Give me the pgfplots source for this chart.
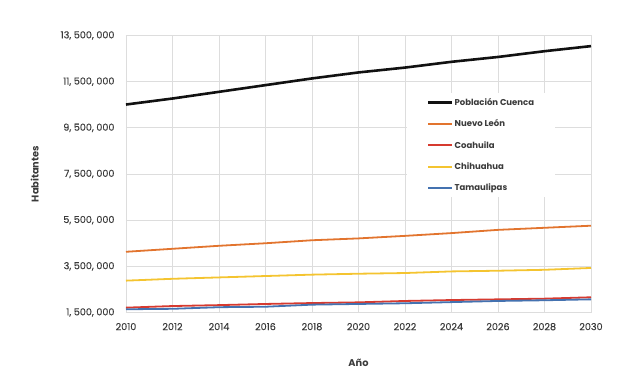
\documentclass[border=0pt]{standalone}
\usepackage{pgfplots}
\pgfplotsset{compat=1.18}
\usepackage{fontspec}
\setmainfont{Poppins}
\newfontfamily\tickfont{Poppins}[FakeBold=0.25]
\definecolor{txt}{HTML}{3A3A3A}
\definecolor{gridc}{HTML}{DDDDDD}
\definecolor{cblack}{HTML}{111111}
\definecolor{corange}{HTML}{E2742E}
\definecolor{cred}{HTML}{D63A2F}
\definecolor{cyellow}{HTML}{F4C430}
\definecolor{cblue}{HTML}{4472B0}
\begin{document}
\begin{tikzpicture}
\useasboundingbox (-126pt,-76.5pt) rectangle (498pt,312.5pt);
\begin{axis}[
  at={(0pt,0pt)}, anchor=south west,
  scale only axis, width=465pt, height=277pt,
  xmin=2010, xmax=2030, ymin=1.5, ymax=13.5,
  xtick={2010,2012,...,2030},
  xticklabels={2010,2012,2014,2016,2018,2020,2022,2024,2026,2028,2030},
  ytick={1.5,3.5,5.5,7.5,9.5,11.5,13.5},
  yticklabels={{1, 500, 000},{3, 500, 000},{5, 500, 000},{7, 500, 000},{9, 500, 000},{11, 500, 000},{13, 500, 000}},
  grid=major, major grid style={gridc, line width=0.8pt},
  axis line style={gridc, line width=0.8pt},
  major tick length=0pt,
  tick label style={font=\tickfont\fontsize{9.6}{11}\selectfont, text=txt},
  yticklabel style={xshift=-8pt},
  xticklabel style={yshift=-7pt},
  xlabel={\bfseries Año}, ylabel={\bfseries Habitantes},
  label style={font=\fontsize{9.8}{11}\selectfont, text=txt},
  xlabel style={at={(axis description cs:0.5,-0.182)}, anchor=center},
  ylabel style={at={(axis description cs:-0.196,0.5)}, anchor=center, rotate=0},
  legend style={at={(axis description cs:0.604,0.793)}, anchor=north west,
    fill=white, draw=none, inner xsep=20pt, inner ysep=4pt,
    row sep=11pt, font=\fontsize{8.5}{10}\selectfont\bfseries, text=txt,
    nodes={inner sep=1pt}},
  legend cell align=left,
  legend image code/.code={\draw[#1] (0pt,0pt) -- (24pt,0pt);},
]
\addplot[cblack, line width=2.6pt] coordinates {(2010,10.51) (2012,10.77) (2014,11.06) (2016,11.35) (2018,11.64) (2020,11.90) (2022,12.11) (2024,12.36) (2026,12.57) (2028,12.82) (2030,13.04)};
\addlegendentry{Población Cuenca}
\addplot[corange, line width=1.8pt] coordinates {(2010,4.13) (2012,4.26) (2014,4.39) (2016,4.50) (2018,4.63) (2020,4.71) (2022,4.82) (2024,4.94) (2026,5.08) (2028,5.17) (2030,5.26)};
\addlegendentry{Nuevo León}
\addplot[cred, line width=1.8pt] coordinates {(2010,1.71) (2012,1.78) (2014,1.82) (2016,1.87) (2018,1.91) (2020,1.94) (2022,2.00) (2024,2.04) (2026,2.07) (2028,2.10) (2030,2.16)};
\addlegendentry{Coahuila}
\addplot[cyellow, line width=1.8pt] coordinates {(2010,2.88) (2012,2.96) (2014,3.02) (2016,3.08) (2018,3.14) (2020,3.18) (2022,3.21) (2024,3.28) (2026,3.31) (2028,3.35) (2030,3.43)};
\addlegendentry{Chihuahua}
\addplot[cblue, line width=1.8pt] coordinates {(2010,1.64) (2012,1.66) (2014,1.73) (2016,1.75) (2018,1.84) (2020,1.87) (2022,1.90) (2024,1.95) (2026,2.00) (2028,2.03) (2030,2.07)};
\addlegendentry{Tamaulipas}
\end{axis}
\end{tikzpicture}
\end{document}
